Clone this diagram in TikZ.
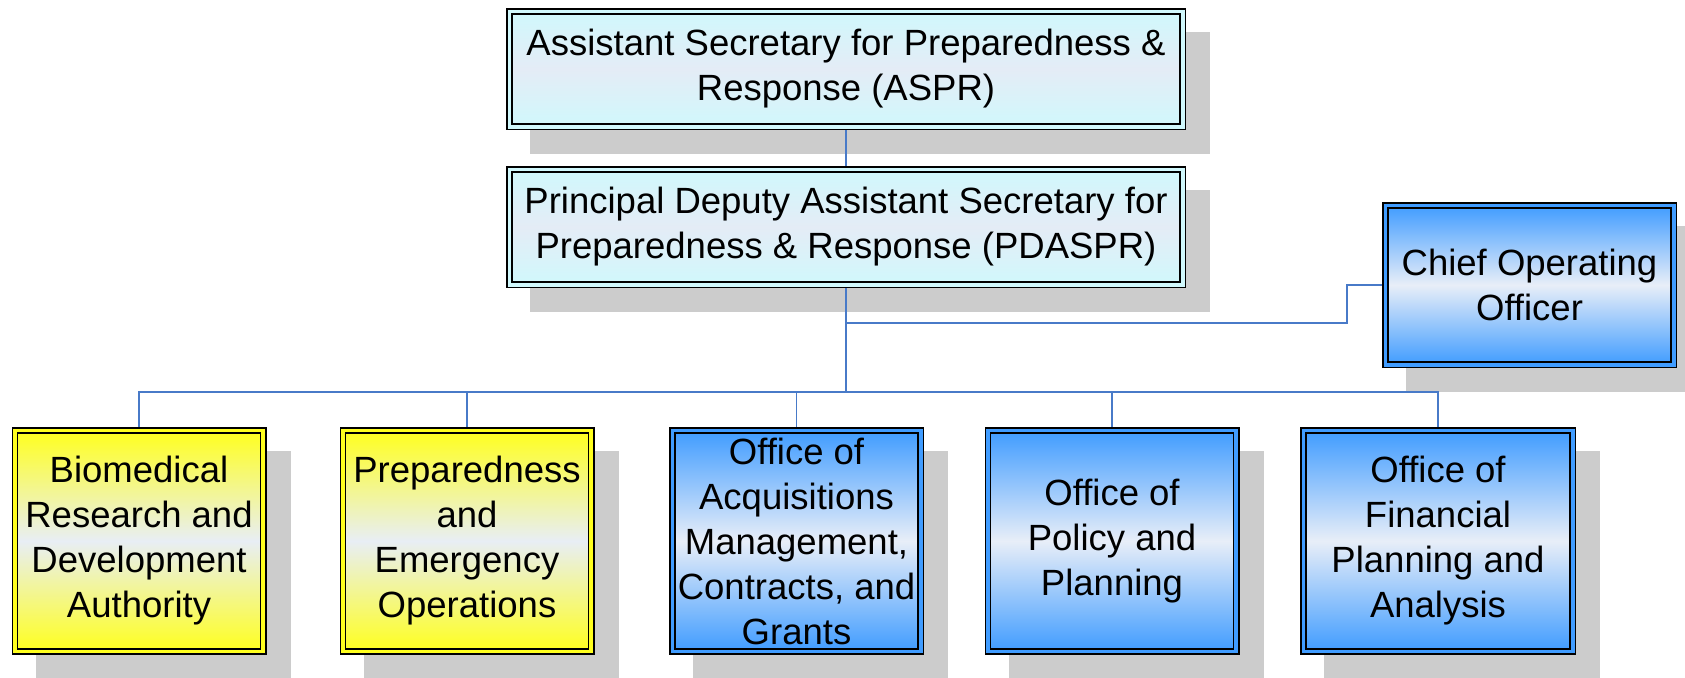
\documentclass[tikz,border=0pt]{standalone}
\usepackage{fontspec}
\setmainfont{Liberation Sans}
\usetikzlibrary{backgrounds,calc}
\definecolor{bluec}{RGB}{64,156,255}
\definecolor{bluemid}{RGB}{232,238,248}
\definecolor{yelc}{RGB}{255,255,30}
\definecolor{yelmid}{RGB}{232,238,245}
\definecolor{cyanc}{RGB}{208,248,252}
\definecolor{cyanmid}{RGB}{228,236,246}
\definecolor{shadowgray}{RGB}{204,204,204}
\definecolor{connc}{RGB}{72,122,200}
\tikzset{
  orgbox/.style={draw=black, line width=0.75pt, double distance=1.8pt,
    inner sep=0pt, outer sep=1.65pt, align=center,
    font=\fontsize{18.25pt}{22.5pt}\selectfont},
  bluebox/.style={orgbox, double=bluec, top color=bluec, bottom color=bluec, middle color=bluemid},
  yelbox/.style={orgbox, double=yelc, top color=yelc, bottom color=yelc, middle color=yelmid},
  cyanbox/.style={orgbox, double=cyanc, top color=cyanc, bottom color=cyanc, middle color=cyanmid},
  topsize/.style={minimum width=336.7pt, minimum height=57.7pt},
  lowsize/.style={minimum width=124.2pt, minimum height=110.45pt},
  conn/.style={draw=connc, line width=0.75pt},
  shadowfill/.style={fill=shadowgray}
}
\begin{document}
\begin{tikzpicture}[x=0.5pt,y=-0.5pt]
\useasboundingbox (0,0) rectangle (1685,677);
\node[cyanbox, topsize] (aspr) at (846,69) {Assistant Secretary for Preparedness \&\\Response (ASPR)};
\node[cyanbox, topsize] (pdaspr) at (846,227) {Principal Deputy Assistant Secretary for\\Preparedness \& Response (PDASPR)};
\node[bluebox, minimum width=144.2pt, minimum height=79.7pt] (coo) at (1529.5,285) {Chief Operating\\Officer};
\node[yelbox, lowsize] (b1) at (139,541) {Biomedical\\Research and\\Development\\Authority};
\node[yelbox, lowsize] (b2) at (467,541) {Preparedness\\and\\Emergency\\Operations};
\node[bluebox, lowsize] (b3) at (796.5,541) {Office of\\Acquisitions\\Management,\\Contracts, and\\Grants};
\node[bluebox, lowsize] (b4) at (1112,541) {Office of\\Policy and\\Planning};
\node[bluebox, lowsize, minimum width=134.7pt] (b5) at (1438,541) {Office of\\Financial\\Planning and\\Analysis};
\coordinate (hub) at (846,392);
\coordinate (cj) at (846,323);
\coordinate (ck) at (1347,323);
\begin{scope}[on background layer]
  \foreach \n in {aspr,pdaspr,coo,b1,b2,b3,b4,b5}{
    \fill[shadowfill] ($(\n.north west)+(24,24)$) rectangle ($(\n.south east)+(24,24)$);
  }
  \draw[conn] (aspr.south) -- (pdaspr.north);
  \draw[conn] (pdaspr.south) -- (hub);
  \draw[conn] (cj) -- (ck) |- (coo.west);
  \draw[conn] (b1.north) -- (b1.north |- hub) -- (b5.north |- hub) -- (b5.north);
  \foreach \n in {b2,b3,b4}{
    \draw[conn] (\n.north) -- (\n.north |- hub);
  }
\end{scope}
\end{tikzpicture}
\end{document}
